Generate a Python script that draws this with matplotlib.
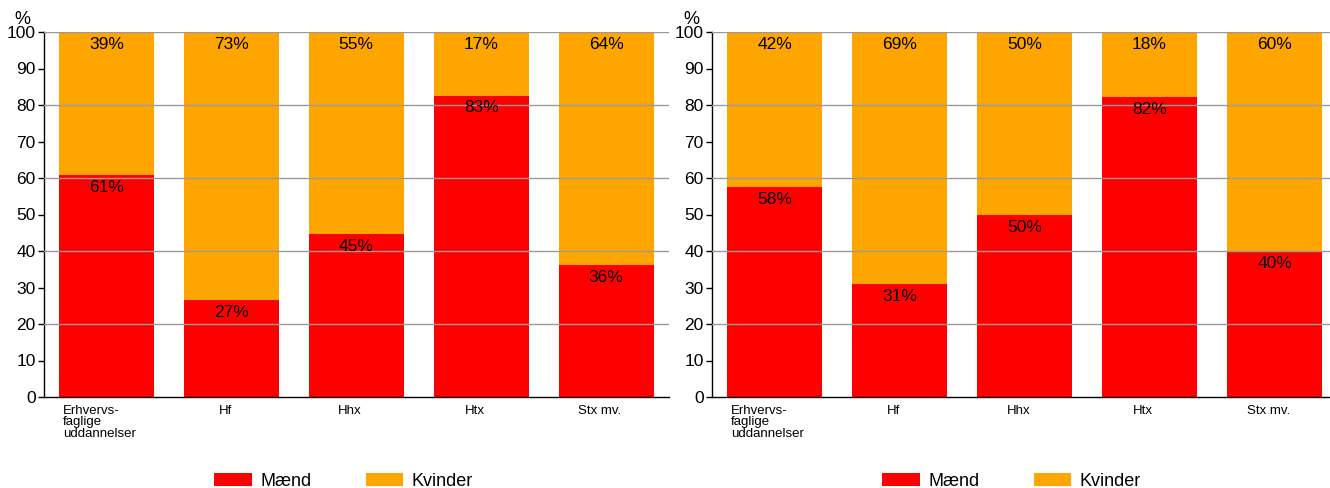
import matplotlib
matplotlib.use("Agg")
import matplotlib.pyplot as plt
from matplotlib.patches import Patch
from matplotlib import font_manager

fams = {f.name for f in font_manager.fontManager.ttflist}
main_font = "Liberation Sans Narrow" if "Liberation Sans Narrow" in fams else "Liberation Sans"
plt.rcParams['font.family'] = [main_font, 'DejaVu Sans']

categories = ["Erhvervs-\nfaglige\nuddannelser", "Hf", "Hhx", "Htx", "Stx mv."]
left_maend = [60.9, 26.6, 44.6, 82.6, 36.2]
left_kvinder = [39.1, 73.4, 55.4, 17.4, 63.8]
right_maend = [57.6, 31.0, 49.8, 82.1, 39.9]
right_kvinder = [42.4, 69.0, 50.2, 17.9, 60.1]
yticks = list(range(0, 101, 10))
gridvals = [20, 40, 60, 80, 100]
series_names = ["Mænd", "Kvinder"]

RED = "#FF0000"
ORANGE = "#FFA500"

fig = plt.figure(figsize=(13.3, 4.88), dpi=100)
H = 488.0
W = 1330.0
bottom = 1 - 397 / H
height = (397 - 32) / H

ax1 = fig.add_axes([44 / W, bottom, 624.5 / W, height])
ax2 = fig.add_axes([712 / W, bottom, (W - 712) / W, height])


def draw(ax, maend, kvinder, xmax):
    x = list(range(len(categories)))
    ax.bar(x, maend, width=0.76, color=RED, edgecolor="none", zorder=2)
    ax.bar(x, kvinder, width=0.76, bottom=maend, color=ORANGE, edgecolor="none", zorder=2)
    for g in gridvals:
        ax.axhline(g, color="#9a9a9a", lw=1.0, zorder=3)
    for xi, m, k in zip(x, maend, kvinder):
        ax.text(xi, m - 3.4, f"{int(round(m))}%", ha="center", va="center",
                fontsize=12.5, color="black", zorder=4)
        ax.text(xi, m + k - 3.4, f"{int(round(k))}%", ha="center", va="center",
                fontsize=12.5, color="black", zorder=4)
    ax.set_xlim(-0.5, xmax)
    ax.set_ylim(0, 100)
    ax.set_yticks(yticks)
    ax.set_yticklabels([str(t) for t in yticks], fontsize=12.5)
    ax.set_xticks([])
    for xi, c in zip(x, categories):
        if "\n" in c:
            ax.text(xi - 0.35, -2.3, c, ha="left", va="top", fontsize=9.5,
                    linespacing=0.9, transform=ax.transData)
        else:
            ax.text(xi - 0.05, -2.3, c, ha="center", va="top", fontsize=9.5,
                    transform=ax.transData)
    for s in ["top", "right"]:
        ax.spines[s].set_visible(False)
    ax.spines["left"].set_linewidth(1.0)
    ax.spines["bottom"].set_linewidth(1.0)
    ax.tick_params(axis="y", length=4, width=1.0, pad=2)
    ax.text(-0.034, 1.035, "%", transform=ax.transAxes, fontsize=13,
            ha="center", va="center")
    ax.set_facecolor("white")


draw(ax1, left_maend, left_kvinder, 4.5)
draw(ax2, right_maend, right_kvinder, -0.5 + (W - 712) / 125.0)

handles = [Patch(facecolor=RED, edgecolor="none"), Patch(facecolor=ORANGE, edgecolor="none")]
for cx in [343.5 / W, 1011.5 / W]:
    fig.legend(handles, series_names, loc="center", bbox_to_anchor=(cx, 7 / H),
               ncol=2, frameon=False, fontsize=13, handlelength=2.1,
               handleheight=0.75, handletextpad=0.45, columnspacing=3.0,
               borderaxespad=0, borderpad=0)

fig.savefig("out.png", dpi=100)
